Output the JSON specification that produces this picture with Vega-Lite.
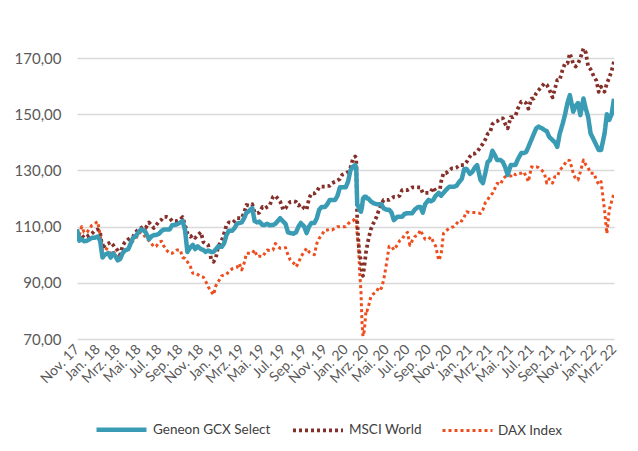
{
  "$schema": "https://vega.github.io/schema/vega-lite/v6.json",
  "width": 537,
  "height": 309,
  "autosize": "none",
  "padding": {"left": 77, "top": 30, "right": 24, "bottom": 112},
  "background": "white",
  "config": {
    "view": {"stroke": null},
    "font": "Lato",
    "axis": {"labelFont": "Lato", "labelColor": "#595959"},
    "legend": {"labelFont": "Lato"}
  },
  "data": {
    "values": [
      {"d":"2017/11/01","g":109,"m":106,"x":109},
      {"d":"2017/11/08","g":105,"m":106.5,"x":107},
      {"d":"2017/11/15","g":105.5,"m":107,"x":110},
      {"d":"2017/11/22","g":104.8,"m":106,"x":108},
      {"d":"2017/12/01","g":105,"m":106.5,"x":108},
      {"d":"2017/12/08","g":105.5,"m":107,"x":109.5},
      {"d":"2017/12/15","g":106,"m":107.5,"x":110.5},
      {"d":"2017/12/22","g":106,"m":108.5,"x":111},
      {"d":"2018/01/01","g":106.5,"m":109,"x":111.8},
      {"d":"2018/01/08","g":105,"m":108,"x":107},
      {"d":"2018/01/15","g":99,"m":102,"x":101.7},
      {"d":"2018/01/22","g":100,"m":103.5,"x":102.5},
      {"d":"2018/02/01","g":100.6,"m":104,"x":101.7},
      {"d":"2018/02/08","g":99,"m":104.5,"x":100.5},
      {"d":"2018/02/15","g":100.5,"m":103.5,"x":101.5},
      {"d":"2018/02/22","g":99.5,"m":102.5,"x":100},
      {"d":"2018/03/01","g":98,"m":101.5,"x":99.3},
      {"d":"2018/03/08","g":98.5,"m":100,"x":99},
      {"d":"2018/03/15","g":100.5,"m":103,"x":101},
      {"d":"2018/03/22","g":101.5,"m":104.5,"x":101.7},
      {"d":"2018/04/01","g":102,"m":105.5,"x":102},
      {"d":"2018/04/08","g":104,"m":106,"x":103.5},
      {"d":"2018/04/15","g":106,"m":106.5,"x":105},
      {"d":"2018/04/22","g":106.5,"m":108,"x":105.5},
      {"d":"2018/05/01","g":108,"m":109,"x":107.5},
      {"d":"2018/05/08","g":109,"m":109.5,"x":108},
      {"d":"2018/05/15","g":108.8,"m":110,"x":107.5},
      {"d":"2018/05/22","g":108,"m":109.5,"x":106},
      {"d":"2018/06/01","g":105.5,"m":111.5,"x":105},
      {"d":"2018/06/08","g":106.5,"m":110.5,"x":104},
      {"d":"2018/06/15","g":107,"m":109.5,"x":102.8},
      {"d":"2018/06/22","g":107,"m":110.5,"x":103},
      {"d":"2018/07/01","g":107.5,"m":112,"x":104.5},
      {"d":"2018/07/08","g":108.5,"m":112.5,"x":104.8},
      {"d":"2018/07/15","g":109,"m":113.5,"x":103},
      {"d":"2018/07/22","g":109,"m":113.5,"x":101.7},
      {"d":"2018/08/01","g":109,"m":113,"x":100.5},
      {"d":"2018/08/08","g":110.5,"m":112,"x":100.5},
      {"d":"2018/08/15","g":110.6,"m":112,"x":101},
      {"d":"2018/08/22","g":110.8,"m":112,"x":101.7},
      {"d":"2018/09/01","g":111.5,"m":112.5,"x":101.7},
      {"d":"2018/09/08","g":112,"m":113.4,"x":99},
      {"d":"2018/09/15","g":108.8,"m":110.6,"x":98.7},
      {"d":"2018/09/22","g":101,"m":107.7,"x":97.5},
      {"d":"2018/10/01","g":102.7,"m":106.4,"x":95.7},
      {"d":"2018/10/08","g":103.5,"m":107,"x":93.4},
      {"d":"2018/10/15","g":102,"m":106,"x":93.5},
      {"d":"2018/10/22","g":103,"m":107,"x":93},
      {"d":"2018/11/01","g":102,"m":108,"x":92.2},
      {"d":"2018/11/08","g":101.7,"m":104.5,"x":92},
      {"d":"2018/11/15","g":101,"m":104,"x":90.5},
      {"d":"2018/11/22","g":101.5,"m":103.5,"x":88.6},
      {"d":"2018/12/01","g":101,"m":98.5,"x":87},
      {"d":"2018/12/08","g":101,"m":97.5,"x":85.7},
      {"d":"2018/12/15","g":102,"m":99,"x":89},
      {"d":"2018/12/22","g":103,"m":103,"x":90.4},
      {"d":"2019/01/01","g":102.8,"m":105,"x":92.5},
      {"d":"2019/01/08","g":104,"m":107.5,"x":92.8},
      {"d":"2019/01/15","g":107,"m":110.5,"x":93},
      {"d":"2019/01/22","g":108.5,"m":111.5,"x":94},
      {"d":"2019/02/01","g":108.5,"m":111.3,"x":95},
      {"d":"2019/02/08","g":109.5,"m":112,"x":95.2},
      {"d":"2019/02/15","g":111,"m":113,"x":95.5},
      {"d":"2019/02/22","g":111.3,"m":113,"x":96.9},
      {"d":"2019/03/01","g":111.5,"m":113,"x":94.6},
      {"d":"2019/03/08","g":113,"m":115,"x":97},
      {"d":"2019/03/15","g":115,"m":117.7,"x":100.5},
      {"d":"2019/03/22","g":115.5,"m":117.5,"x":100.5},
      {"d":"2019/04/01","g":116.6,"m":118,"x":100.5},
      {"d":"2019/04/08","g":112,"m":115,"x":101.7},
      {"d":"2019/04/15","g":111.5,"m":114.8,"x":99.3},
      {"d":"2019/04/22","g":111.8,"m":115,"x":99.5},
      {"d":"2019/05/01","g":110.6,"m":117,"x":99.3},
      {"d":"2019/05/08","g":110.6,"m":116.5,"x":100.5},
      {"d":"2019/05/15","g":111,"m":117,"x":101.7},
      {"d":"2019/05/22","g":110.5,"m":117.5,"x":101.5},
      {"d":"2019/06/01","g":110.6,"m":120.6,"x":101.7},
      {"d":"2019/06/08","g":111,"m":121,"x":104},
      {"d":"2019/06/15","g":112,"m":120,"x":103},
      {"d":"2019/06/22","g":113,"m":119,"x":102.3},
      {"d":"2019/07/01","g":111.8,"m":116,"x":102.3},
      {"d":"2019/07/08","g":111,"m":116.5,"x":102.5},
      {"d":"2019/07/15","g":108,"m":118,"x":100},
      {"d":"2019/07/22","g":107.7,"m":118.8,"x":98.1},
      {"d":"2019/08/01","g":107.5,"m":119,"x":97},
      {"d":"2019/08/08","g":108,"m":118.8,"x":95.7},
      {"d":"2019/08/15","g":110,"m":117.5,"x":97},
      {"d":"2019/08/22","g":111.3,"m":118,"x":99.3},
      {"d":"2019/09/01","g":110,"m":116.5,"x":101},
      {"d":"2019/09/08","g":107.7,"m":116,"x":102.3},
      {"d":"2019/09/15","g":110,"m":120,"x":101},
      {"d":"2019/09/22","g":111.3,"m":121.8,"x":100.5},
      {"d":"2019/10/01","g":111.3,"m":121.8,"x":100},
      {"d":"2019/10/08","g":113,"m":122.5,"x":104},
      {"d":"2019/10/15","g":116,"m":124,"x":105.8},
      {"d":"2019/10/22","g":117,"m":124.2,"x":107},
      {"d":"2019/11/01","g":117,"m":124.2,"x":108.8},
      {"d":"2019/11/08","g":118,"m":124.5,"x":108.8},
      {"d":"2019/11/15","g":119.5,"m":124.5,"x":109},
      {"d":"2019/11/22","g":119.5,"m":125.5,"x":108.8},
      {"d":"2019/12/01","g":119.5,"m":126,"x":109.5},
      {"d":"2019/12/08","g":121,"m":126.5,"x":110},
      {"d":"2019/12/15","g":124,"m":127,"x":110},
      {"d":"2019/12/22","g":124,"m":128.5,"x":110},
      {"d":"2020/01/01","g":124,"m":129,"x":110},
      {"d":"2020/01/08","g":126,"m":129.5,"x":111},
      {"d":"2020/01/15","g":130,"m":131,"x":111.8},
      {"d":"2020/01/22","g":131.3,"m":134,"x":112},
      {"d":"2020/01/29","g":131.9,"m":135,"x":113},
      {"d":"2020/02/01","g":131,"m":134.5,"x":113},
      {"d":"2020/02/04","g":118,"m":112,"x":107},
      {"d":"2020/02/08","g":117,"m":104,"x":103},
      {"d":"2020/02/11","g":116,"m":100,"x":94},
      {"d":"2020/02/15","g":115.3,"m":98,"x":87},
      {"d":"2020/02/18","g":117,"m":93,"x":76},
      {"d":"2020/02/21","g":120,"m":92.5,"x":71},
      {"d":"2020/02/25","g":120.6,"m":96,"x":73},
      {"d":"2020/03/01","g":120.6,"m":101,"x":80.3},
      {"d":"2020/03/04","g":120,"m":103,"x":80},
      {"d":"2020/03/08","g":120,"m":105.5,"x":81.5},
      {"d":"2020/03/15","g":119,"m":109,"x":85},
      {"d":"2020/03/22","g":118.4,"m":111,"x":86},
      {"d":"2020/04/01","g":118,"m":113.5,"x":86.8},
      {"d":"2020/04/08","g":118,"m":116,"x":88.6},
      {"d":"2020/04/15","g":118,"m":118,"x":88},
      {"d":"2020/04/22","g":116.5,"m":119.5,"x":91},
      {"d":"2020/05/01","g":116,"m":119.5,"x":97.5},
      {"d":"2020/05/08","g":116,"m":119.5,"x":103},
      {"d":"2020/05/15","g":115,"m":120,"x":103},
      {"d":"2020/05/22","g":112.3,"m":120.6,"x":101.7},
      {"d":"2020/06/01","g":113.5,"m":120.6,"x":103.5},
      {"d":"2020/06/08","g":113.5,"m":121,"x":105},
      {"d":"2020/06/15","g":113.5,"m":123,"x":105.5},
      {"d":"2020/06/22","g":114.5,"m":123,"x":107},
      {"d":"2020/07/01","g":114.8,"m":123,"x":108},
      {"d":"2020/07/08","g":114.8,"m":123.5,"x":103.4},
      {"d":"2020/07/15","g":114.8,"m":124,"x":105},
      {"d":"2020/07/22","g":116,"m":124,"x":106.4},
      {"d":"2020/08/01","g":117,"m":124,"x":107},
      {"d":"2020/08/08","g":117,"m":124,"x":108.8},
      {"d":"2020/08/15","g":115,"m":122,"x":107},
      {"d":"2020/08/22","g":118,"m":122,"x":105.5},
      {"d":"2020/09/01","g":119.5,"m":122,"x":105.5},
      {"d":"2020/09/08","g":119,"m":122.5,"x":106.4},
      {"d":"2020/09/15","g":119.5,"m":124,"x":104.5},
      {"d":"2020/09/22","g":121,"m":122.5,"x":103},
      {"d":"2020/10/01","g":122,"m":120.6,"x":98},
      {"d":"2020/10/08","g":121,"m":126,"x":100},
      {"d":"2020/10/15","g":122,"m":129,"x":107.6},
      {"d":"2020/10/22","g":123,"m":129,"x":108.5},
      {"d":"2020/11/01","g":124.2,"m":130,"x":109.4},
      {"d":"2020/11/08","g":124.2,"m":130.7,"x":109.8},
      {"d":"2020/11/15","g":124.2,"m":130.7,"x":110},
      {"d":"2020/11/22","g":124.5,"m":131,"x":111},
      {"d":"2020/12/01","g":126,"m":131.9,"x":112.3},
      {"d":"2020/12/08","g":127,"m":131.9,"x":112},
      {"d":"2020/12/15","g":130.5,"m":132,"x":113.5},
      {"d":"2020/12/22","g":130.5,"m":133,"x":115.3},
      {"d":"2021/01/01","g":128.8,"m":135,"x":115},
      {"d":"2021/01/08","g":129.5,"m":136,"x":115},
      {"d":"2021/01/15","g":131,"m":136,"x":115},
      {"d":"2021/01/22","g":131.9,"m":136.5,"x":115},
      {"d":"2021/02/01","g":126.6,"m":138.4,"x":114.7},
      {"d":"2021/02/08","g":125.5,"m":139.5,"x":116},
      {"d":"2021/02/15","g":129,"m":141,"x":118.5},
      {"d":"2021/02/22","g":133,"m":143,"x":119.5},
      {"d":"2021/03/01","g":133.7,"m":143.5,"x":121},
      {"d":"2021/03/08","g":137,"m":146.5,"x":121.8},
      {"d":"2021/03/15","g":135.5,"m":147.3,"x":123.5},
      {"d":"2021/03/22","g":133.7,"m":147.5,"x":125.4},
      {"d":"2021/04/01","g":133.7,"m":148.5,"x":125},
      {"d":"2021/04/08","g":133,"m":148.5,"x":127},
      {"d":"2021/04/15","g":131,"m":146.5,"x":127.8},
      {"d":"2021/04/22","g":128.4,"m":145,"x":128},
      {"d":"2021/05/01","g":131.9,"m":149,"x":128},
      {"d":"2021/05/08","g":131.9,"m":149,"x":129},
      {"d":"2021/05/15","g":132,"m":149.5,"x":128.5},
      {"d":"2021/05/22","g":134,"m":152,"x":129},
      {"d":"2021/06/01","g":136.2,"m":154.5,"x":129},
      {"d":"2021/06/08","g":136.2,"m":154.5,"x":129.5},
      {"d":"2021/06/15","g":136.5,"m":154,"x":128},
      {"d":"2021/06/22","g":138.4,"m":152,"x":126},
      {"d":"2021/07/01","g":141,"m":155.6,"x":131.3},
      {"d":"2021/07/08","g":143,"m":155.6,"x":131},
      {"d":"2021/07/15","g":145,"m":157.5,"x":131.3},
      {"d":"2021/07/22","g":145.6,"m":158.6,"x":131},
      {"d":"2021/08/01","g":145,"m":160,"x":130},
      {"d":"2021/08/08","g":144.4,"m":161,"x":129},
      {"d":"2021/08/15","g":144,"m":160.5,"x":125.5},
      {"d":"2021/08/22","g":142,"m":159,"x":127},
      {"d":"2021/09/01","g":140.8,"m":156,"x":125.5},
      {"d":"2021/09/08","g":140,"m":159,"x":127.8},
      {"d":"2021/09/15","g":138.4,"m":162.2,"x":127.8},
      {"d":"2021/09/22","g":143,"m":162.2,"x":130},
      {"d":"2021/10/01","g":146.7,"m":166,"x":131.3},
      {"d":"2021/10/08","g":150,"m":168.1,"x":132.5},
      {"d":"2021/10/15","g":154,"m":168.1,"x":133.7},
      {"d":"2021/10/22","g":156.8,"m":171.7,"x":133.5},
      {"d":"2021/11/01","g":150.9,"m":168,"x":129},
      {"d":"2021/11/08","g":153,"m":167,"x":127},
      {"d":"2021/11/15","g":154,"m":168,"x":126.6},
      {"d":"2021/11/22","g":149.7,"m":170,"x":129.5},
      {"d":"2021/12/01","g":155.6,"m":173.4,"x":133.7},
      {"d":"2021/12/08","g":152,"m":172,"x":132},
      {"d":"2021/12/15","g":149,"m":167,"x":131},
      {"d":"2021/12/22","g":143.2,"m":166,"x":129},
      {"d":"2022/01/01","g":140.8,"m":163.4,"x":129},
      {"d":"2022/01/08","g":139,"m":162,"x":126.6},
      {"d":"2022/01/15","g":137.3,"m":158,"x":125},
      {"d":"2022/01/22","g":137.3,"m":159.8,"x":126},
      {"d":"2022/02/01","g":143,"m":158,"x":116},
      {"d":"2022/02/08","g":150,"m":161,"x":107.5},
      {"d":"2022/02/15","g":148,"m":163,"x":116},
      {"d":"2022/02/22","g":150,"m":165.5,"x":119},
      {"d":"2022/03/01","g":155.5,"m":168.7,"x":121.8}
    ]
  },
  "transform": [
    {"fold": ["x", "m", "g"], "as": ["s", "v"]}
  ],
  "mark": {"type": "line", "strokeJoin": "round", "strokeCap": "butt", "clip": true},
  "encoding": {
    "x": {
      "field": "d",
      "type": "temporal",
      "scale": {"domain": [{"year": 2017, "month": 11, "date": 1}, {"year": 2022, "month": 3, "date": 1}]},
      "axis": {
        "title": null,
        "domain": false,
        "ticks": false,
        "grid": false,
        "values": [
          {"year":2017,"month":11,"date":1},{"year":2018,"month":1,"date":1},{"year":2018,"month":3,"date":1},
          {"year":2018,"month":5,"date":1},{"year":2018,"month":7,"date":1},{"year":2018,"month":9,"date":1},
          {"year":2018,"month":11,"date":1},{"year":2019,"month":1,"date":1},{"year":2019,"month":3,"date":1},
          {"year":2019,"month":5,"date":1},{"year":2019,"month":7,"date":1},{"year":2019,"month":9,"date":1},
          {"year":2019,"month":11,"date":1},{"year":2020,"month":1,"date":1},{"year":2020,"month":3,"date":1},
          {"year":2020,"month":5,"date":1},{"year":2020,"month":7,"date":1},{"year":2020,"month":9,"date":1},
          {"year":2020,"month":11,"date":1},{"year":2021,"month":1,"date":1},{"year":2021,"month":3,"date":1},
          {"year":2021,"month":5,"date":1},{"year":2021,"month":7,"date":1},{"year":2021,"month":9,"date":1},
          {"year":2021,"month":11,"date":1},{"year":2022,"month":1,"date":1},{"year":2022,"month":3,"date":1}
        ],
        "labelExpr": "['Jan.','Feb.','Mrz.','Apr.','Mai.','Jun.','Jul.','Aug.','Sep.','Okt.','Nov.','Dez.'][month(datum.value)] + ' ' + timeFormat(datum.value, '%y')",
        "labelAngle": -45,
        "labelAlign": "right",
        "labelBaseline": "middle",
        "labelPadding": 8,
        "labelFontSize": 14,
        "labelOverlap": false,
        "labelBound": false,
        "labelFlush": false
      }
    },
    "y": {
      "field": "v",
      "type": "quantitative",
      "scale": {"domain": [70, 180], "nice": false, "zero": false},
      "axis": {
        "title": null,
        "domain": false,
        "ticks": false,
        "values": [70, 90, 110, 130, 150, 170],
        "labelExpr": "replace(format(datum.value, '.2f'), '.', ',')",
        "labelPadding": 16,
        "labelFontSize": 15,
        "gridColor": "#d9d9d9",
        "gridWidth": 1.3
      }
    },
    "color": {
      "field": "s",
      "type": "nominal",
      "scale": {"domain": ["g", "m", "x"], "range": ["#3A9BB5", "#842F2A", "#EE4E1E"]},
      "legend": {
        "title": null,
        "orient": "bottom",
        "direction": "horizontal",
        "labelExpr": "datum.label == 'g' ? 'Geneon GCX Select' : datum.label == 'm' ? 'MSCI World' : 'DAX Index'",
        "labelFontSize": 13.5,
        "labelColor": "#404040",
        "symbolType": "stroke",
        "symbolSize": 2500,
        "columnPadding": 14,
        "labelOffset": 4,
        "padding": 17,
        "offset": -1
      }
    },
    "strokeDash": {
      "field": "s",
      "type": "nominal",
      "scale": {"domain": ["g", "m", "x"], "range": [[1, 0], [3, 3], [3, 3]]}
    },
    "strokeWidth": {
      "field": "s",
      "type": "nominal",
      "scale": {"domain": ["g", "m", "x"], "range": [4.5, 3, 3]}
    },
    "order": {"field": "d", "type": "temporal"}
  }
}
